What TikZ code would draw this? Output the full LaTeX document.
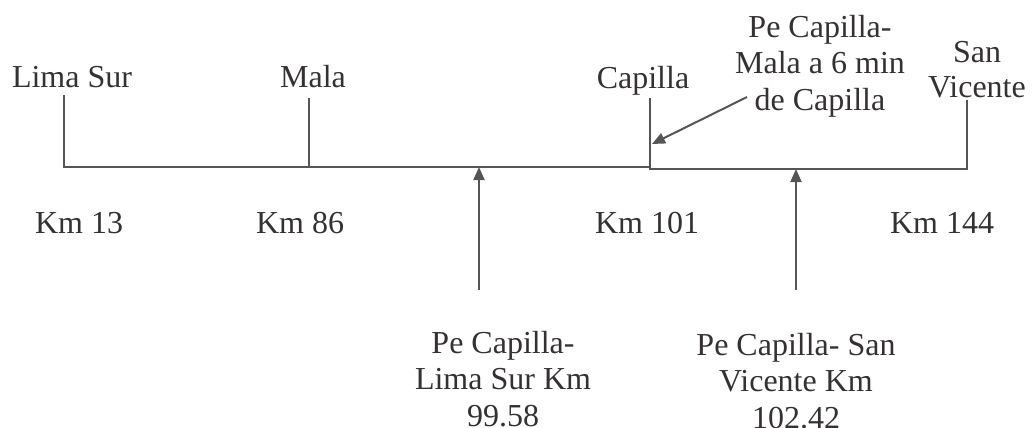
\documentclass[tikz,border=0pt]{standalone}
\usepackage{fontspec}
\setmainfont{Liberation Serif}
\usetikzlibrary{arrows.meta}
\definecolor{ink}{HTML}{353033}
\definecolor{rule}{HTML}{555555}
\begin{document}
\begin{tikzpicture}[x=1bp,y=-1bp,
  lbl/.style={inner sep=0pt,anchor=base,text=ink,font=\fontsize{32bp}{36.5bp}\selectfont,align=center},
  road/.style={draw=rule,line width=2bp},
  pointer/.style={draw=rule,line width=2bp,-{Triangle[length=13bp,width=11bp]}}]
\useasboundingbox (0,0) rectangle (1032,427);
\clip (0,0) rectangle (1032,427);

% towns along the road (a multi-line node sits on its last baseline)
\node[lbl] (lima) at (72,87) {Lima Sur};
\node[lbl] (mala) at (313,87) {Mala};
\node[lbl] (capilla) at (643,88) {Capilla};
\node[lbl,font=\fontsize{32bp}{35bp}\selectfont] (sanv) at (977,97) {San\\Vicente};

% kilometre marks
\node[lbl] (k13) at (79,233) {Km 13};
\node[lbl] (k86) at (300,233) {Km 86};
\node[lbl] (k101) at (647,233) {Km 101};
\node[lbl] (k144) at (942,233) {Km 144};

% tick tops and the road itself
\coordinate (tLima) at (64,95);
\coordinate (tMala) at (309,98);
\coordinate (tCap) at (650,98);
\coordinate (tSan) at (967,100);
\coordinate (bLima) at (64,167);
\coordinate (bMala) at (309,167);
\coordinate (bCap) at (650,167);
\coordinate (bCap2) at (650,169);
\coordinate (bSan) at (967,169);

\draw[road] (tLima) -- (bLima) -- (bCap);
\draw[road] (tMala) -- (bMala);
\draw[road] (tCap) -- (bCap2) -- (bSan) -- (tSan);

% pumping station labels
\node[lbl] (peMala) at (820,110) {Pe Capilla-\\Mala a 6 min\\de Capilla};
\node[lbl] (peLima) at (503,426) {Pe Capilla-\\Lima Sur Km\\99.58};
\node[lbl] (peSan) at (796,428) {Pe Capilla- San\\Vicente Km\\102.42};

% pointers
\coordinate (aMalaT) at (747,97);
\coordinate (aMalaH) at (652,144);
\coordinate (aLimaT) at (479,290);
\coordinate (aLimaH) at (479,167);
\coordinate (aSanT) at (796,290);
\coordinate (aSanH) at (796,169);

\draw[pointer] (aMalaT) -- (aMalaH);
\draw[pointer] (aLimaT) -- (aLimaH);
\draw[pointer] (aSanT) -- (aSanH);
\end{tikzpicture}
\end{document}
